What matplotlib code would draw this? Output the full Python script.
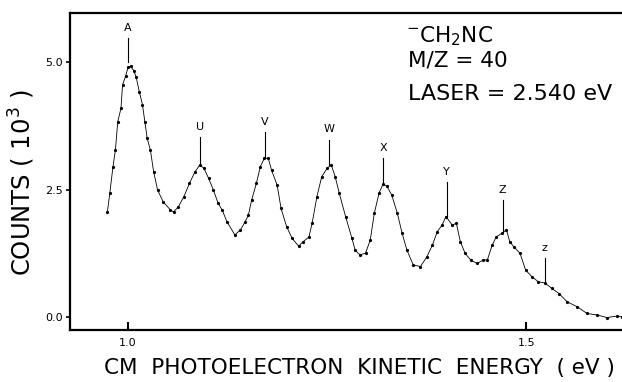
import matplotlib
matplotlib.use("Agg")
import matplotlib.pyplot as plt

# spectrum (eV, counts in 10^3)
energy = [0.974, 0.977, 0.981, 0.984, 0.987, 0.991, 0.993, 0.997, 1.000, 1.003,
          1.007, 1.010, 1.014, 1.018, 1.021, 1.024, 1.028, 1.032, 1.037, 1.044,
          1.053, 1.057, 1.063, 1.070, 1.077, 1.084, 1.090, 1.095, 1.101, 1.107,
          1.113, 1.118, 1.124, 1.134, 1.141, 1.147, 1.151, 1.155, 1.161, 1.166,
          1.171, 1.176, 1.180, 1.187, 1.192, 1.199, 1.206, 1.214, 1.220, 1.227,
          1.231, 1.237, 1.243, 1.250, 1.255, 1.260, 1.265, 1.273, 1.281, 1.285,
          1.291, 1.298, 1.304, 1.309, 1.315, 1.320, 1.325, 1.331, 1.338, 1.344,
          1.350, 1.358, 1.367, 1.375, 1.382, 1.388, 1.394, 1.399, 1.407, 1.412,
          1.417, 1.423, 1.430, 1.438, 1.446, 1.451, 1.457, 1.462, 1.469, 1.475,
          1.479, 1.484, 1.492, 1.499, 1.507, 1.515, 1.523, 1.532, 1.541, 1.551,
          1.564, 1.576, 1.589, 1.601, 1.614, 1.620]
counts = [2.06, 2.43, 2.95, 3.27, 3.83, 4.09, 4.55, 4.73, 4.90, 4.92,
          4.83, 4.71, 4.42, 4.16, 3.83, 3.50, 3.27, 2.85, 2.49, 2.26,
          2.10, 2.06, 2.16, 2.36, 2.62, 2.85, 2.98, 2.92, 2.72, 2.49,
          2.23, 2.10, 1.87, 1.61, 1.71, 1.87, 2.00, 2.29, 2.62, 2.95,
          3.11, 3.11, 2.88, 2.59, 2.13, 1.77, 1.54, 1.39, 1.48, 1.57,
          1.84, 2.36, 2.75, 2.92, 2.98, 2.75, 2.43, 1.97, 1.54, 1.31,
          1.22, 1.25, 1.51, 2.03, 2.43, 2.61, 2.56, 2.39, 2.03, 1.64,
          1.31, 1.02, 0.99, 1.18, 1.41, 1.67, 1.80, 1.97, 1.80, 1.84,
          1.48, 1.25, 1.12, 1.05, 1.12, 1.12, 1.41, 1.57, 1.64, 1.71,
          1.48, 1.38, 1.25, 0.92, 0.79, 0.69, 0.67, 0.56, 0.46, 0.30,
          0.20, 0.07, 0.04, -0.01, 0.02, 0.00]

# peak markers: label, position, foot and top of tick line
peak_labels = ["A", "U", "V", "W", "X", "Y", "Z", "z"]
peak_energy = [1.000, 1.090, 1.172, 1.252, 1.320, 1.400, 1.470, 1.523]
peak_base = [5.00, 3.02, 3.14, 2.98, 2.65, 1.98, 1.67, 0.68]
peak_top = [5.47, 3.53, 3.63, 3.48, 3.12, 2.65, 2.29, 1.16]

y_ticks = [0.0, 2.5, 5.0]
y_ticklabels = ["0.0", "2.5", "5.0"]
x_ticks = [1.0, 1.5]
x_ticklabels = ["1.0", "1.5"]

plt.rcParams['font.family'] = ['DejaVu Sans']

fig = plt.figure(figsize=(6.22, 3.82), dpi=100)
ax = fig.add_axes([0.1125, 0.136, 0.8875, 0.830])

ax.plot(energy, counts, color="black", lw=0.6, marker="o", ms=1.3)

for lab, e, b, t in zip(peak_labels, peak_energy, peak_base, peak_top):
    ax.plot([e, e], [b, t], color="black", lw=0.8)
    ax.text(e, t + 0.1, lab, ha="center", va="bottom", fontsize=8)

ax.set_xlim(0.927, 1.62)
ax.set_ylim(-0.255, 5.96)

ax.set_yticks(y_ticks)
ax.set_yticklabels(y_ticklabels, fontsize=8)
ax.set_xticks(x_ticks)
ax.set_xticklabels(x_ticklabels, fontsize=8)
ax.tick_params(axis="y", direction="out", length=3, width=1.2, pad=2)
ax.tick_params(axis="x", direction="in", length=6, width=1.5, pad=6)

for side in ["left", "bottom", "top"]:
    ax.spines[side].set_linewidth(1.6)
ax.spines["right"].set_visible(False)

ax.set_ylabel("COUNTS ( 10$^3$ )", fontsize=17.5)
ax.yaxis.set_label_coords(-0.06, 0.464)
ax.set_xlabel("CM  PHOTOELECTRON  KINETIC  ENERGY  ( eV )", fontsize=15.5)
ax.xaxis.set_label_coords(0.525, -0.088)

# annotation block in the top right
ax.text(0.608, 0.927, r"$^{-}$CH$_2$NC", fontsize=15.5, va="center", ha="left",
        transform=ax.transAxes)
ax.text(0.612, 0.849, "M/Z = 40", fontsize=15.5, va="center", ha="left",
        transform=ax.transAxes)
ax.text(0.612, 0.744, "LASER = 2.540 eV", fontsize=16, va="center", ha="left",
        transform=ax.transAxes)

fig.savefig("out.png", dpi=100)
